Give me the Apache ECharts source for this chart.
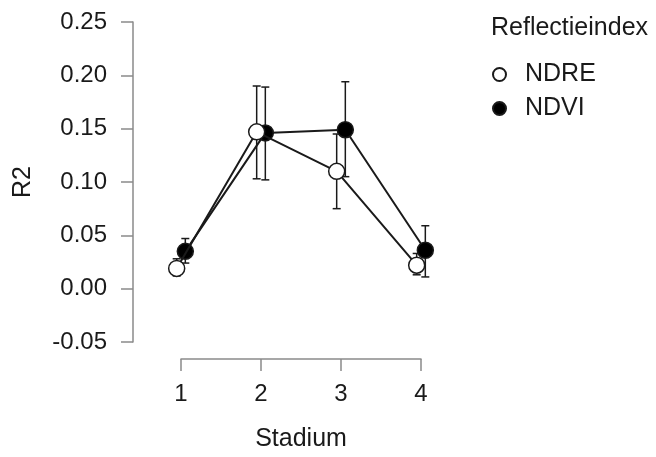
<!DOCTYPE html>
<html>
<head>
<meta charset="utf-8">
<script src="https://cdn.jsdelivr.net/npm/echarts@6/dist/echarts.min.js"></script>
<style>
html,body{margin:0;padding:0;background:#fff;}
#chart{width:656px;height:457px;}
</style>
</head>
<body>
<div id="chart"></div>
<script>
const stages = [1, 2, 3, 4];
const seriesNames = ['NDRE', 'NDVI'];
const ndre = [0.019, 0.147, 0.110, 0.022];
const ndreLow = [0.012, 0.103, 0.075, 0.013];
const ndreHigh = [0.028, 0.190, 0.145, 0.033];
const ndvi = [0.035, 0.146, 0.149, 0.036];
const ndviLow = [0.024, 0.102, 0.105, 0.011];
const ndviHigh = [0.047, 0.189, 0.194, 0.059];
const yMin = -0.05, yMax = 0.25, yStep = 0.05;
const dodge = 0.054;

const FONT = 'Liberation Sans, Arial, sans-serif';
const AXIS_GREY = '#8a8a8a';
const INK = '#1a1a1a';

function pts(vals, off) { return stages.map((s, i) => [s + off, vals[i]]); }
function errs(lo, hi, off) { return stages.map((s, i) => [s + off, lo[i], hi[i]]); }

function errRender(params, api) {
  const x = api.value(0), lo = api.value(1), hi = api.value(2);
  const a = api.coord([x, lo]), b = api.coord([x, hi]);
  const w = 4;
  const st = { stroke: INK, lineWidth: 1.5 };
  return { type: 'group', children: [
    { type: 'line', shape: { x1: a[0], y1: a[1], x2: b[0], y2: b[1] }, style: st },
    { type: 'line', shape: { x1: a[0] - w, y1: a[1], x2: a[0] + w, y2: a[1] }, style: st },
    { type: 'line', shape: { x1: b[0] - w, y1: b[1], x2: b[0] + w, y2: b[1] }, style: st }
  ]};
}

const chart = echarts.init(document.getElementById('chart'), null, { renderer: 'canvas' });
chart.setOption({
  animation: false,
  backgroundColor: '#fff',
  textStyle: { fontFamily: FONT },
  title: {
    text: 'Reflectieindex', left: 486, top: 11,
    textStyle: { fontFamily: FONT, fontSize: 25, fontWeight: 'normal', color: INK }
  },
  legend: {
    orient: 'vertical', left: 487, top: 57, itemGap: 9,
    icon: 'circle', itemWidth: 13, itemHeight: 13,
    textStyle: { fontFamily: FONT, fontSize: 25, color: INK, padding: [0, 0, 0, 14] },
    data: seriesNames
  },
  grid: { left: 181, right: 235, top: 22, bottom: 110, containLabel: false },
  xAxis: {
    type: 'value', min: 1, max: 4, interval: 1, offset: 17,
    name: 'Stadium', nameLocation: 'middle', nameGap: 68,
    nameTextStyle: { fontFamily: FONT, fontSize: 25, color: INK },
    axisLine: { show: true, onZero: false, lineStyle: { color: AXIS_GREY, width: 1.5 } },
    axisTick: { show: true, length: 12, lineStyle: { color: AXIS_GREY, width: 1.5 } },
    axisLabel: { fontFamily: FONT, fontSize: 24, color: INK, margin: 23, formatter: v => String(v) },
    splitLine: { show: false }
  },
  yAxis: {
    type: 'value', min: yMin, max: yMax, interval: yStep, offset: 48,
    name: 'R2', nameLocation: 'middle', nameGap: 97, nameRotate: 90,
    nameTextStyle: { fontFamily: FONT, fontSize: 25, color: INK },
    axisLine: { show: true, onZero: false, lineStyle: { color: AXIS_GREY, width: 1.5 } },
    axisTick: { show: true, length: 12, lineStyle: { color: AXIS_GREY, width: 1.5 } },
    axisLabel: { fontFamily: FONT, fontSize: 24, color: INK, margin: 26, formatter: v => v.toFixed(2) },
    splitLine: { show: false }
  },
  series: [
    { type: 'custom', name: 'errNDRE', renderItem: errRender, data: errs(ndreLow, ndreHigh, -dodge),
      encode: { x: 0, y: [1, 2] }, clip: false, z: 1, silent: true },
    { type: 'custom', name: 'errNDVI', renderItem: errRender, data: errs(ndviLow, ndviHigh, dodge),
      encode: { x: 0, y: [1, 2] }, clip: false, z: 1, silent: true },
    { type: 'line', name: 'NDRE', data: pts(ndre, -dodge), symbol: 'circle', symbolSize: 16,
      showAllSymbol: true, clip: false, z: 3,
      lineStyle: { color: INK, width: 2 },
      itemStyle: { color: '#fff', borderColor: INK, borderWidth: 1.5 },
      emphasis: { disabled: true } },
    { type: 'line', name: 'NDVI', data: pts(ndvi, dodge), symbol: 'circle', symbolSize: 16,
      showAllSymbol: true, clip: false, z: 2,
      lineStyle: { color: INK, width: 2 },
      itemStyle: { color: '#000', borderColor: INK, borderWidth: 1.5 },
      emphasis: { disabled: true } }
  ]
});
</script>
</body>
</html>
